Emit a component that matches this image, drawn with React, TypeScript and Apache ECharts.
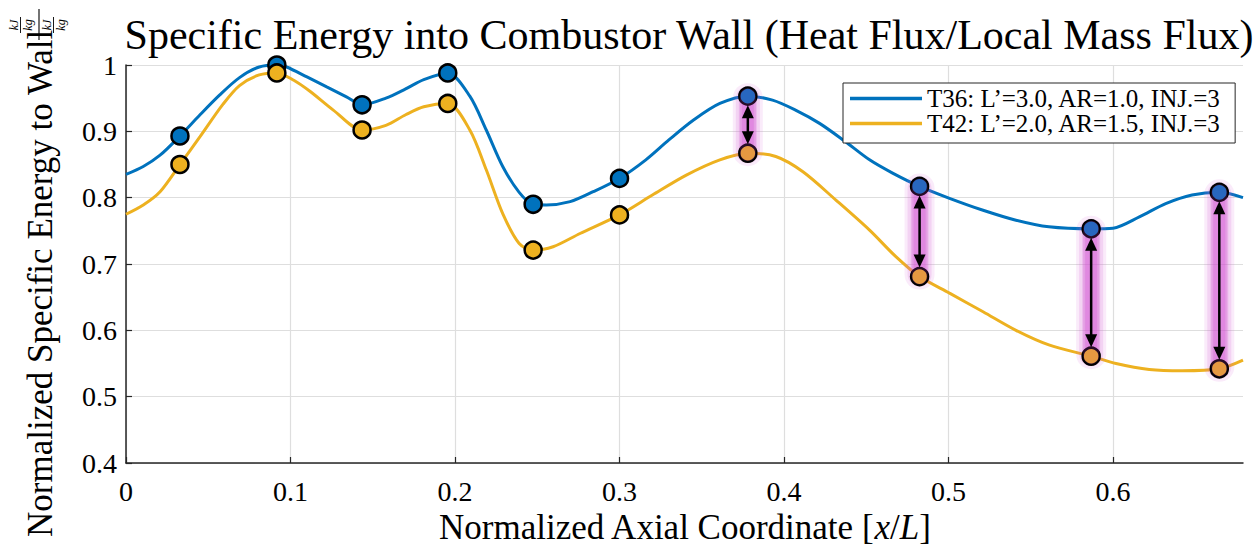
import React, { useEffect, useRef } from "react";
import * as echarts from "echarts";

const SERIES_NAMES = ["T36: L’=3.0, AR=1.0, INJ.=3", "T42: L’=2.0, AR=1.5, INJ.=3"];
const SERIES_COLORS = ["#0072BD", "#EDB120"];

const T36_CURVE: [number, number][] = [
  [0, 0.835], [0.0105, 0.847], [0.0207, 0.864], [0.0328, 0.893], [0.045, 0.925], [0.057, 0.955],
  [0.069, 0.981], [0.081, 0.997], [0.0917, 1.0], [0.0976, 0.997], [0.11, 0.982], [0.122, 0.967],
  [0.134, 0.952], [0.1435, 0.94], [0.158, 0.95], [0.17, 0.964], [0.181, 0.978], [0.1956, 0.988],
  [0.209, 0.953], [0.219, 0.902], [0.229, 0.847], [0.239, 0.808], [0.2475, 0.79], [0.2555, 0.789],
  [0.27, 0.794], [0.284, 0.809], [0.3, 0.829], [0.316, 0.857], [0.33, 0.887], [0.345, 0.917],
  [0.361, 0.942], [0.378, 0.953], [0.393, 0.947], [0.407, 0.932], [0.4216, 0.912], [0.437, 0.885],
  [0.452, 0.857], [0.466, 0.837], [0.4824, 0.817], [0.5006, 0.799], [0.521, 0.781], [0.541, 0.766],
  [0.561, 0.756], [0.5867, 0.753], [0.6, 0.754], [0.616, 0.771], [0.632, 0.791], [0.648, 0.804],
  [0.6646, 0.808], [0.679, 0.8],
];

const T42_CURVE: [number, number][] = [
  [0, 0.775], [0.0105, 0.789], [0.0207, 0.809], [0.0328, 0.85], [0.045, 0.892], [0.059, 0.941],
  [0.069, 0.969], [0.081, 0.985], [0.0917, 0.988], [0.102, 0.977], [0.112, 0.96], [0.126, 0.932],
  [0.1435, 0.902], [0.158, 0.909], [0.17, 0.925], [0.181, 0.937], [0.1956, 0.942], [0.209, 0.902],
  [0.219, 0.842], [0.229, 0.776], [0.239, 0.731], [0.2475, 0.721], [0.2596, 0.726], [0.276, 0.746],
  [0.3, 0.774], [0.32, 0.804], [0.3406, 0.834], [0.361, 0.857], [0.378, 0.867], [0.395, 0.862],
  [0.4115, 0.839], [0.4317, 0.796], [0.452, 0.751], [0.468, 0.711], [0.4824, 0.681], [0.5006, 0.656],
  [0.521, 0.628], [0.541, 0.6], [0.561, 0.578], [0.5867, 0.561], [0.6018, 0.55], [0.622, 0.541],
  [0.642, 0.539], [0.6646, 0.542], [0.679, 0.555],
];

const MARKER_X = [0.0328, 0.0917, 0.1435, 0.1956, 0.2475, 0.3, 0.378, 0.4824, 0.5867, 0.6646];
const T36_MARKER_Y = [0.893, 1.0, 0.94, 0.988, 0.79, 0.829, 0.953, 0.817, 0.753, 0.808];
const T42_MARKER_Y = [0.85, 0.988, 0.902, 0.942, 0.721, 0.774, 0.867, 0.681, 0.561, 0.542];
const ARROW_INDICES = [6, 7, 8, 9];

const X_TICKS = [0, 0.1, 0.2, 0.3, 0.4, 0.5, 0.6];
const X_MIN = 0;
const X_MAX = 0.679;
const Y_MIN = 0.4;
const Y_MAX = 1;
const Y_STEP = 0.1;

const TITLE = "Specific Energy into Combustor Wall (Heat Flux/Local Mass Flux)";
const Y_NAME = "Normalized Specific Energy to Wall";

const SERIF = "Liberation Serif";

export default function App() {
  const ref = useRef<HTMLDivElement>(null);

  useEffect(() => {
    if (!ref.current) return;
    const chart = echarts.init(ref.current, undefined, { renderer: "svg" });

    const fmt = (v: number) => String(parseFloat(v.toFixed(2)));

    const arrowData = ARROW_INDICES.map((i) => [MARKER_X[i], T36_MARKER_Y[i], T42_MARKER_Y[i]]);

    const txt = (x: number, y: number, text: string, size: number, italic = false) => ({
      type: "text",
      x,
      y,
      style: {
        text,
        fontFamily: SERIF,
        fontSize: size,
        fontStyle: italic ? "italic" : "normal",
        fill: "#000",
        align: "center",
        verticalAlign: "middle",
      },
    });

    const smallFrac = (cx: number, cyTop: number, cyBot: number, barY: number) => [
      txt(cx, cyTop, "kJ", 12, true),
      { type: "line", shape: { x1: cx - 8, y1: barY, x2: cx + 8, y2: barY }, style: { stroke: "#000", lineWidth: 0.9 } },
      txt(cx, cyBot, "kg", 12, true),
    ];

    const glowLayers = [
      { w: 30, a: 0.12 },
      { w: 24, a: 0.16 },
      { w: 18, a: 0.22 },
      { w: 12, a: 0.3 },
    ];

    chart.setOption({
      animation: false,
      backgroundColor: "#fff",
      title: {
        text: TITLE,
        left: 684,
        textAlign: "center",
        top: 9,
        textStyle: { fontFamily: SERIF, fontSize: 42, fontWeight: "normal", color: "#000" },
      },
      legend: {
        data: SERIES_NAMES,
        orient: "vertical",
        left: 843,
        top: 83,
        padding: [3, 14, 7, 7],
        itemGap: 0,
        itemWidth: 72,
        itemHeight: 3.5,
        icon: "rect",
        borderColor: "#262626",
        borderWidth: 1,
        backgroundColor: "#fff",
        textStyle: { fontFamily: SERIF, fontSize: 25, color: "#000", lineHeight: 25, height: 25 },
        selectedMode: false,
        z: 10,
      },
      grid: { left: 126, right: 12, top: 65, bottom: 85, containLabel: false, outerBoundsMode: "none" },
      xAxis: {
        type: "value",
        min: X_MIN,
        max: X_MAX,
        interval: 0.1,
        axisLine: { show: true, lineStyle: { color: "#262626", width: 1.5 } },
        axisTick: { show: true, inside: true, length: 6, lineStyle: { color: "#262626", width: 1.2 }, customValues: X_TICKS },
        axisLabel: {
          show: true,
          customValues: X_TICKS,
          margin: 14,
          fontFamily: SERIF,
          fontSize: 28,
          color: "#000",
          formatter: fmt,
        },
        splitLine: { show: true, lineStyle: { color: "#dedede", width: 1.2 } },
        name: "{a|Normalized Axial Coordinate [}{i|x}{a|/}{i|L}{a|]}",
        nameLocation: "middle",
        nameGap: 42,
        nameTextStyle: {
          rich: {
            a: { fontFamily: SERIF, fontSize: 35, color: "#000" },
            i: { fontFamily: SERIF, fontSize: 35, color: "#000", fontStyle: "italic" },
          },
        },
      },
      yAxis: {
        type: "value",
        min: Y_MIN,
        max: Y_MAX,
        interval: Y_STEP,
        axisLine: { show: true, lineStyle: { color: "#262626", width: 1.5 } },
        axisTick: { show: true, inside: true, length: 6, lineStyle: { color: "#262626", width: 1.2 } },
        axisLabel: { margin: 9, fontFamily: SERIF, fontSize: 28, color: "#000", formatter: fmt },
        splitLine: { show: true, lineStyle: { color: "#dedede", width: 1.2 } },
      },
      graphic: [
        {
          type: "group",
          x: 40,
          y: 537,
          rotation: Math.PI / 2,
          children: [
            {
              type: "text",
              x: 0,
              y: 0,
              style: {
                text: Y_NAME,
                fontFamily: SERIF,
                fontSize: 35,
                fill: "#000",
                align: "left",
                verticalAlign: "middle",
              },
            },
            { type: "line", shape: { x1: 497, y1: -1, x2: 528, y2: -1 }, style: { stroke: "#000", lineWidth: 1.1 } },
            ...smallFrac(512, -26, -12, -19.5),
            ...smallFrac(512, 7, 21, 13.5),
          ],
        },
      ],
      series: [
        {
          name: SERIES_NAMES[0],
          type: "line",
          data: T36_CURVE,
          smooth: 0.3,
          symbol: "none",
          lineStyle: { color: SERIES_COLORS[0], width: 3 },
          itemStyle: { color: SERIES_COLORS[0] },
          z: 2,
        },
        {
          name: SERIES_NAMES[1],
          type: "line",
          data: T42_CURVE,
          smooth: 0.3,
          symbol: "none",
          lineStyle: { color: SERIES_COLORS[1], width: 3 },
          itemStyle: { color: SERIES_COLORS[1] },
          z: 2,
        },
        {
          name: "gap glow",
          type: "custom",
          data: arrowData,
          encode: { x: 0, y: [1, 2] },
          z: 2.5,
          clip: false,
          renderItem: (params: any, api: any) => {
            const x = api.value(0);
            const p1 = api.coord([x, api.value(1)]);
            const p2 = api.coord([x, api.value(2)]);
            return {
              type: "group",
              children: glowLayers.map((g) => ({
                type: "line",
                shape: { x1: p1[0], y1: p1[1] + 2, x2: p1[0], y2: p2[1] - 2 },
                style: { stroke: `rgba(214,90,214,${g.a})`, lineWidth: g.w, lineCap: "round", fill: "none" },
              })),
            };
          },
        },
        {
          name: "T36 markers",
          type: "scatter",
          data: MARKER_X.map((x, i) => [x, T36_MARKER_Y[i]]),
          symbol: "circle",
          symbolSize: 17,
          itemStyle: { color: SERIES_COLORS[0], borderColor: "#000", borderWidth: 2.5, opacity: 1 },
          z: 3,
        },
        {
          name: "T42 markers",
          type: "scatter",
          data: MARKER_X.map((x, i) => [x, T42_MARKER_Y[i]]),
          symbol: "circle",
          symbolSize: 17,
          itemStyle: { color: SERIES_COLORS[1], borderColor: "#000", borderWidth: 2.5, opacity: 1 },
          z: 3,
        },
        {
          name: "gap arrows",
          type: "custom",
          data: arrowData,
          encode: { x: 0, y: [1, 2] },
          z: 4,
          clip: false,
          renderItem: (params: any, api: any) => {
            const x = api.value(0);
            const p1 = api.coord([x, api.value(1)]);
            const p2 = api.coord([x, api.value(2)]);
            const cx = p1[0];
            const top = p1[1];
            const bot = p2[1];
            const tipGap = 9;
            const headLen = 13;
            const headHalf = 6;
            return {
              type: "group",
              children: [
                {
                  type: "line",
                  shape: { x1: cx, y1: top, x2: cx, y2: bot },
                  style: { stroke: "rgba(200,60,200,0.2)", lineWidth: 16, lineCap: "round", fill: "none" },
                },
                {
                  type: "line",
                  shape: { x1: cx, y1: top + tipGap + headLen - 1, x2: cx, y2: bot - tipGap - headLen + 1 },
                  style: { stroke: "#000", lineWidth: 2.5 },
                },
                {
                  type: "polygon",
                  shape: { points: [[cx, top + tipGap], [cx - headHalf, top + tipGap + headLen], [cx + headHalf, top + tipGap + headLen]] },
                  style: { fill: "#000" },
                },
                {
                  type: "polygon",
                  shape: { points: [[cx, bot - tipGap], [cx - headHalf, bot - tipGap - headLen], [cx + headHalf, bot - tipGap - headLen]] },
                  style: { fill: "#000" },
                },
              ],
            };
          },
        },
      ],
    });

    return () => chart.dispose();
  }, []);

  return (
    <div
      ref={ref}
      style={{ position: "fixed", left: 0, top: 0, width: 1255, height: 548, background: "#fff" }}
    />
  );
}
